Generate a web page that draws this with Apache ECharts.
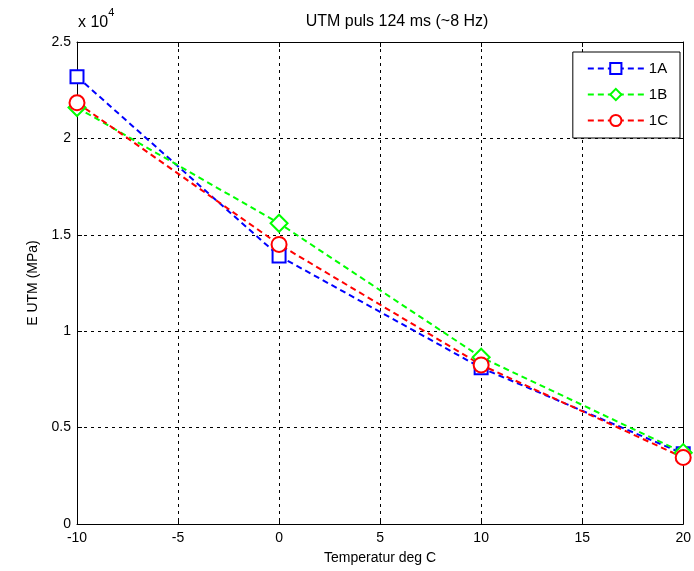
<!DOCTYPE html>
<html><head><meta charset="utf-8">
<script src="https://cdn.jsdelivr.net/npm/echarts@6/dist/echarts.min.js"></script>
<style>html,body{margin:0;padding:0;background:#fff}#c{width:694px;height:571px}</style>
</head><body><div id="c"></div>
<script>
const temps = [-10, 0, 10, 20];
const s1A = [23200, 13900, 8100, 3650];
const s1B = [21600, 15600, 8650, 3700];
const s1C = [21850, 14500, 8250, 3450];
const seriesNames = ['1A', '1B', '1C'];
const yTicks = [0, 5000, 10000, 15000, 20000, 25000];
const xTicks = [-10, -5, 0, 5, 10, 15, 20];

const F = 'Liberation Sans, Arial, sans-serif';
const chart = echarts.init(document.getElementById('c'));
function mk(name, data, color, symbol, size) {
  return {
    name, type: 'line', data: temps.map((t, i) => [t, data[i]]),
    symbol, symbolSize: size, showSymbol: true,
    itemStyle: { color: '#fff', borderColor: color, borderWidth: 2 },
    lineStyle: { color, width: 2, type: [6, 4] },
    emphasis: { disabled: true }, animation: false, z: 3
  };
}
const axisCommon = {
  axisLine: { show: true, onZero: false, lineStyle: { color: '#000', width: 1 } },
  axisTick: { show: true, inside: true, length: 5, lineStyle: { color: '#000' } },
};
chart.setOption({
  animation: false,
  title: { text: 'UTM puls 124 ms (~8 Hz)', left: 392, top: 9, textAlign: 'center',
    textStyle: { fontFamily: F, fontSize: 16, fontWeight: 'normal', color: '#000' } },
  grid: { left: 77, right: 8, top: 42, bottom: 47 },
  legend: {
    right: 14, top: 52, orient: 'vertical', itemWidth: 56, itemHeight: 14, itemGap: 11,
    backgroundColor: '#fff', borderColor: '#000', borderWidth: 1, padding: [9, 12, 10, 14],
    textStyle: { fontFamily: F, fontSize: 15, color: '#000' },
    data: seriesNames, selectedMode: false
  },
  xAxis: [{
    type: 'value', min: -10, max: 20, interval: 5, ...axisCommon,
    axisLabel: { fontFamily: F, fontSize: 14, color: '#000', margin: 7 },
    splitLine: { show: true, lineStyle: { color: '#000', type: [3, 4], width: 1 } },
    name: 'Temperatur deg C', nameLocation: 'middle', nameGap: 27,
    nameTextStyle: { fontFamily: F, fontSize: 14, color: '#000' }
  }, {
    type: 'value', position: 'top', min: -10, max: 20, interval: 5, ...axisCommon,
    axisLabel: { show: false }, splitLine: { show: false }
  }],
  yAxis: [{
    type: 'value', min: 0, max: 25000, interval: 5000, ...axisCommon,
    axisLabel: { fontFamily: F, fontSize: 14, color: '#000', margin: 6,
      formatter: v => String(v / 10000) },
    splitLine: { show: true, lineStyle: { color: '#000', type: [3, 4], width: 1 } },
    name: 'E UTM (MPa)', nameLocation: 'middle', nameGap: 32,
    nameTextStyle: { fontFamily: F, fontSize: 14, color: '#000' }
  }, {
    type: 'value', position: 'right', min: 0, max: 25000, interval: 5000, ...axisCommon,
    axisLabel: { show: false }, splitLine: { show: false }
  }],
  graphic: [{
    type: 'text', left: 78, top: 7,
    style: { text: '{a|x 10}{b|4}', rich: {
      a: { fontFamily: F, fontSize: 16, fill: '#000', padding: [8, 0, 0, 0] },
      b: { fontFamily: F, fontSize: 11, fill: '#000', verticalAlign: 'top' } } }
  }],
  series: [
    mk('1A', s1A, '#0000ff', 'rect', 13),
    mk('1B', s1B, '#00ff00', 'diamond', 17),
    mk('1C', s1C, '#ff0000', 'circle', 15)
  ]
});
</script></body></html>
